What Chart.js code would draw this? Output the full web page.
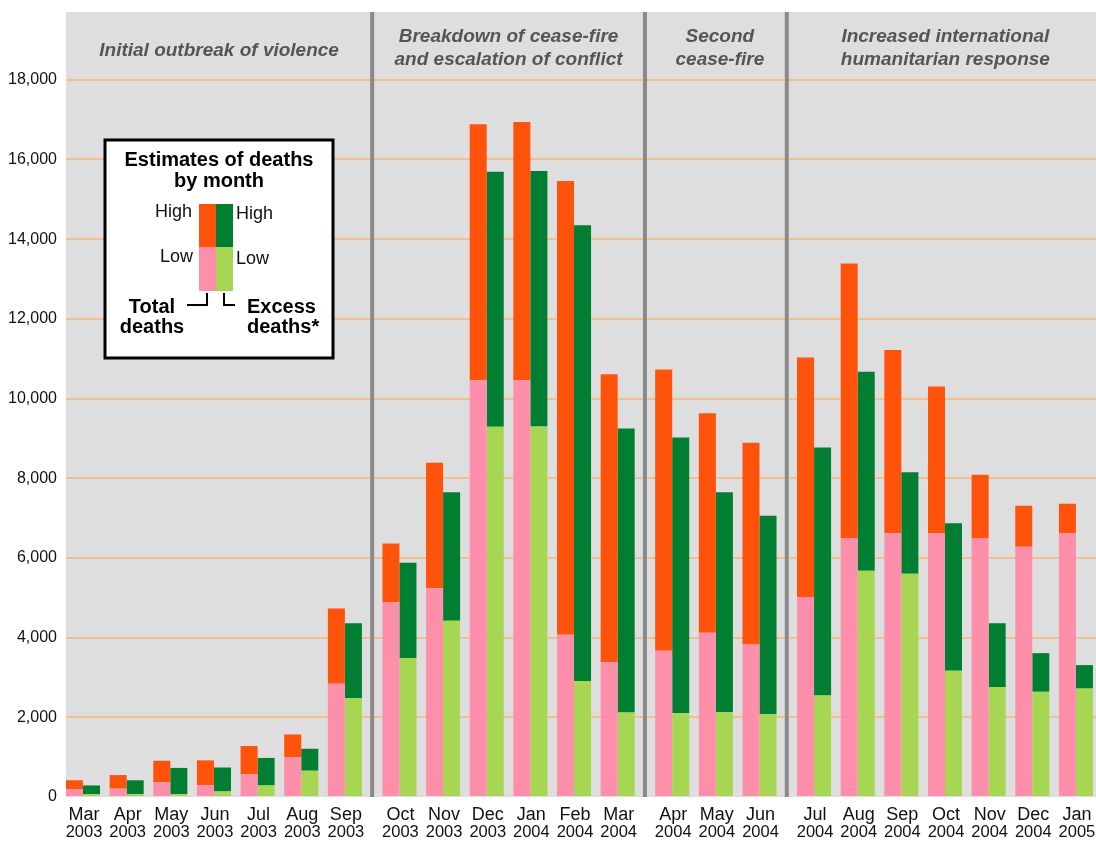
<!DOCTYPE html>
<html><head><meta charset="utf-8">
<script src="https://cdn.jsdelivr.net/npm/chart.js@4.4.1/dist/chart.umd.min.js"></script>
<style>html,body{margin:0;padding:0;background:#fff;overflow:hidden}#wrap{width:1096px;height:841px;position:relative}</style>
</head><body><div id="wrap"><canvas id="c"></canvas></div>
<script>
const months = ['Mar','Apr','May','Jun','Jul','Aug','Sep','Oct','Nov','Dec','Jan','Feb','Mar','Apr','May','Jun','Jul','Aug','Sep','Oct','Nov','Dec','Jan'];
const years  = ['2003','2003','2003','2003','2003','2003','2003','2003','2003','2003','2004','2004','2004','2004','2004','2004','2004','2004','2004','2004','2004','2004','2005'];
const periodOfMonth = [0,0,0,0,0,0,0,1,1,1,1,1,1,2,2,2,3,3,3,3,3,3,3];
const periodTitles = [
  ['Initial outbreak of violence'],
  ['Breakdown of cease-fire','and escalation of conflict'],
  ['Second','cease-fire'],
  ['Increased international','humanitarian response']
];
const totalLow   = [200,210,370,300,570,1000,2840,4880,5240,10460,10460,4070,3380,3670,4120,3830,5020,6490,6620,6620,6490,6280,6620];
const totalHigh  = [420,550,910,920,1280,1570,4730,6360,8390,16880,16940,15460,10610,10730,9630,8890,11030,13390,11220,10300,8090,7310,7360];
const excessLow  = [70,75,70,140,290,660,2480,3490,4420,9290,9300,2910,2120,2100,2130,2075,2550,5680,5600,3170,2760,2640,2720];
const excessHigh = [290,420,730,740,980,1210,4360,5880,7650,15690,15710,14350,9250,9020,7650,7060,8770,10670,8150,6870,4360,3610,3310];
const yTickValues = [0,2000,4000,6000,8000,10000,12000,14000,16000,18000];

const C_PINK='#fe8fab', C_ORANGE='#ff520a', C_LGREEN='#a6d652', C_DGREEN='#007e32';
const GRID='#f4bf8e', BG='#dedede', SEP='#8a8a8a';
const FONT='"Liberation Sans", Arial, Helvetica, sans-serif';

const PERIOD_GAP = 0.25;
const xPos = months.map((m,i)=> i + PERIOD_GAP*periodOfMonth[i]);
const pts = arr => arr.map((v,i)=>({x:xPos[i], y:v}));
const diff = (hi,lo) => hi.map((v,i)=>v-lo[i]);

const deco = {
  id:'deco',
  beforeDraw(chart){
    const {ctx, chartArea:a} = chart;
    ctx.save(); ctx.fillStyle=BG; ctx.fillRect(a.left, a.top, a.right-a.left, a.bottom-a.top); ctx.restore();
  },
  afterDraw(chart){
    const {ctx, chartArea:a} = chart;
    const xs = chart.scales.x;
    ctx.save();
    // separators
    const bounds = [a.left];
    for (let i=1;i<xPos.length;i++){
      if (periodOfMonth[i]!==periodOfMonth[i-1]){
        const px = xs.getPixelForValue((xPos[i]+xPos[i-1])/2);
        bounds.push(px);
        ctx.fillStyle=SEP; ctx.fillRect(px-2, a.top, 4, a.bottom-a.top);
      }
    }
    bounds.push(a.right);
    // period titles
    ctx.fillStyle='#555'; ctx.font='italic bold 19px '+FONT; ctx.textAlign='center'; ctx.textBaseline='middle';
    periodTitles.forEach((lines,p)=>{
      const cx=(bounds[p]+bounds[p+1])/2 + (p>=2 ? 4 : 0);
      if (lines.length===1) ctx.fillText(lines[0], cx, a.top+39);
      else { ctx.fillText(lines[0], cx, a.top+25); ctx.fillText(lines[1], cx, a.top+48); }
    });
    // x labels
    ctx.fillStyle='#111';
    months.forEach((m,i)=>{
      const px = xs.getPixelForValue(xPos[i]);
      ctx.font='18px '+FONT; ctx.fillText(m, px+1, a.bottom+18);
      ctx.font='16.5px '+FONT; ctx.fillText(years[i], px+1, a.bottom+35);
    });
    // legend box
    const L = a.left+39, T = a.top+128;
    ctx.fillStyle='#fff'; ctx.fillRect(L, T, 228, 218);
    ctx.strokeStyle='#000'; ctx.lineWidth=3; ctx.strokeRect(L, T, 228, 218);
    ctx.fillStyle='#000'; ctx.font='bold 20px '+FONT; ctx.textAlign='center';
    ctx.fillText('Estimates of deaths', L+114, T+20);
    ctx.fillText('by month', L+114, T+41);
    const sx = L+94, sy = T+64;
    ctx.fillStyle=C_ORANGE; ctx.fillRect(sx, sy, 17, 43);
    ctx.fillStyle=C_PINK; ctx.fillRect(sx, sy+43, 17, 44);
    ctx.fillStyle=C_DGREEN; ctx.fillRect(sx+17, sy, 17, 43);
    ctx.fillStyle=C_LGREEN; ctx.fillRect(sx+17, sy+43, 17, 44);
    ctx.fillStyle='#111'; ctx.font='18px '+FONT;
    ctx.textAlign='right'; ctx.fillText('High', sx-7, sy+8); ctx.fillText('Low', sx-6, sy+53);
    ctx.textAlign='left'; ctx.fillText('High', sx+37, sy+10); ctx.fillText('Low', sx+37, sy+55);
    ctx.fillStyle='#000'; ctx.font='bold 20px '+FONT;
    ctx.textAlign='center'; ctx.fillText('Total', L+47, T+167); ctx.fillText('deaths', L+47, T+187);
    ctx.textAlign='left'; ctx.fillText('Excess', L+142, T+167); ctx.fillText('deaths*', L+142, T+187);
    ctx.lineWidth=2; ctx.strokeStyle='#000';
    ctx.beginPath(); ctx.moveTo(L+82, T+165); ctx.lineTo(L+102, T+165); ctx.lineTo(L+102, T+153); ctx.stroke();
    ctx.beginPath(); ctx.moveTo(L+119, T+153); ctx.lineTo(L+119, T+165); ctx.lineTo(L+130, T+165); ctx.stroke();
    ctx.restore();
  }
};

new Chart(document.getElementById('c'), {
  type:'bar',
  data:{ datasets:[
    {label:'Total deaths (low)', data:pts(totalLow), backgroundColor:C_PINK, stack:'total'},
    {label:'Total deaths (high)', data:pts(diff(totalHigh,totalLow)), backgroundColor:C_ORANGE, stack:'total'},
    {label:'Excess deaths (low)', data:pts(excessLow), backgroundColor:C_LGREEN, stack:'excess'},
    {label:'Excess deaths (high)', data:pts(diff(excessHigh,excessLow)), backgroundColor:C_DGREEN, stack:'excess'}
  ]},
  options:{
    responsive:true, maintainAspectRatio:false, animation:false,
    layout:{padding:{top:12,left:0,right:0,bottom:0}},
    datasets:{bar:{categoryPercentage:0.78, barPercentage:1.0, borderWidth:0}},
    plugins:{legend:{display:false}, tooltip:{enabled:false}},
    scales:{
      x:{ type:'linear', offset:false, min:-0.39, max:23.21,
          afterBuildTicks(s){ s.ticks = xPos.map(v=>({value:v})); },
          afterFit(s){ s.height = 44; s.paddingLeft = 0; s.paddingRight = 0; },
          ticks:{display:false}, grid:{display:false}, border:{display:false} },
      y:{ stacked:true, min:0, max:19700,
          afterBuildTicks(s){ s.ticks = yTickValues.map(v=>({value:v})); },
          afterFit(s){ s.width = 66; s.paddingTop = 0; s.paddingBottom = 0; },
          ticks:{ padding:9, color:'#111', font:{family:FONT, size:16},
                  callback:v=>v.toLocaleString('en-US') },
          grid:{ drawTicks:false, lineWidth:2, color:c=> (c.tick && c.tick.value===0) ? 'rgba(0,0,0,0)' : GRID },
          border:{display:false} }
    }
  },
  plugins:[deco]
});
</script></body></html>
